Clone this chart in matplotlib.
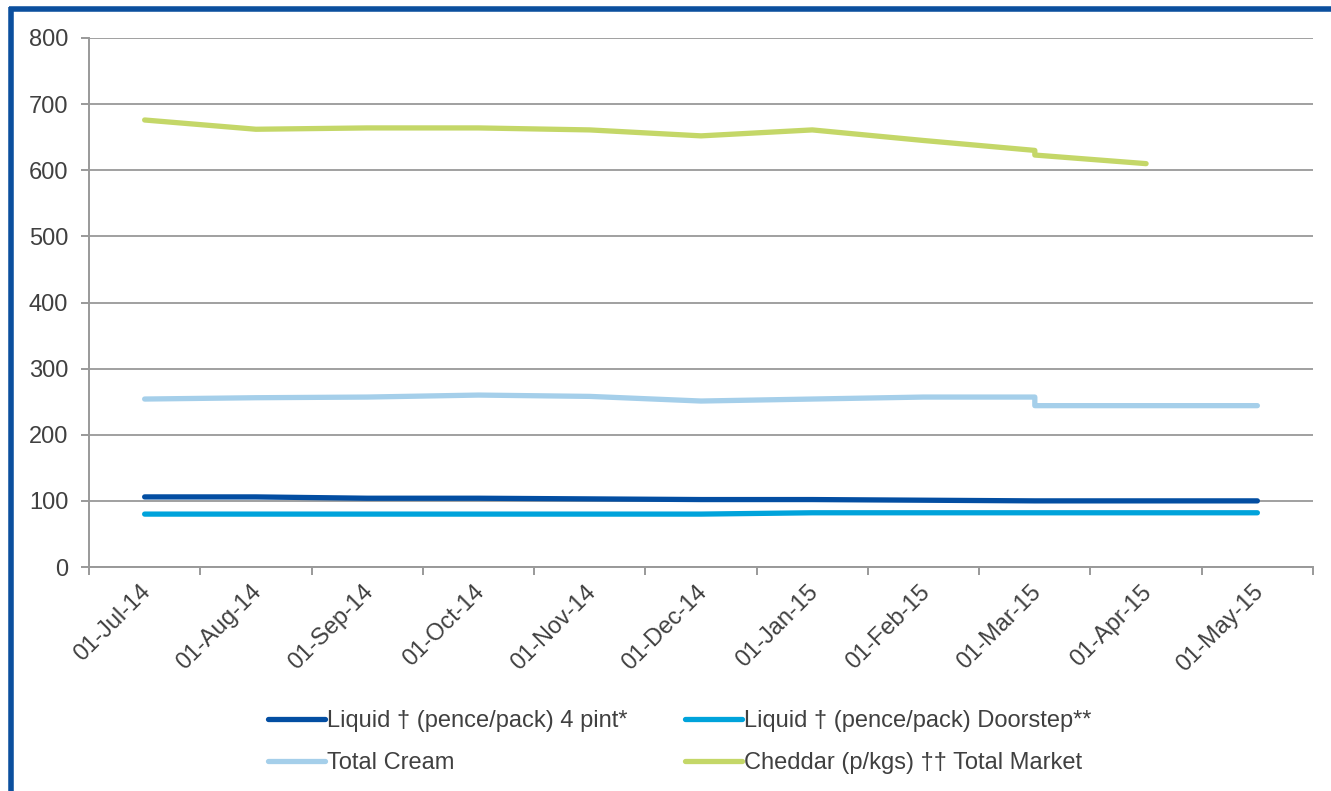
import matplotlib
matplotlib.use("Agg")
import matplotlib.pyplot as plt
from matplotlib.lines import Line2D
import matplotlib.transforms as mtransforms
import numpy as np

plt.rcParams['font.family'] = ['Liberation Sans', 'DejaVu Sans']

categories = ["01-Jul-14", "01-Aug-14", "01-Sep-14", "01-Oct-14", "01-Nov-14",
              "01-Dec-14", "01-Jan-15", "01-Feb-15", "01-Mar-15", "01-Apr-15", "01-May-15"]
# category index of each data point (March 2015 appears twice)
point_cat = [0, 1, 2, 3, 4, 5, 6, 7, 8, 8, 9, 10]

liquid_4pint = [106, 106, 104, 104, 103, 102, 102, 101, 100, 100, 100, 100]
liquid_doorstep = [80, 80, 80, 80, 80, 80, 82, 82, 82, 82, 82, 82]
total_cream = [254, 256, 257, 260, 258, 251, 254, 257, 257, 244, 244, 244]
cheddar = [676, 662, 664, 664, 661, 652, 661, 645, 630, 623, 610, np.nan]

series_names = ["Liquid \u2020 (pence/pack) 4 pint*", "Liquid \u2020 (pence/pack) Doorstep**",
                "Total Cream", "Cheddar (p/kgs) \u2020\u2020 Total Market"]
colors = ["#034EA2", "#00A3DB", "#A5CFEA", "#C4D768"]

W, H = 1331, 791
fig = plt.figure(figsize=(W / 100, H / 100), dpi=100)
ax = fig.add_axes([89 / W, 1 - 567 / H, (1313 - 89) / W, (567 - 38) / H])

x = np.array(point_cat) + 0.5
lines = []
for vals, c, name in zip([liquid_4pint, liquid_doorstep, total_cream, cheddar], colors, series_names):
    ln, = ax.plot(x, vals, color=c, lw=3.8, solid_capstyle='round', solid_joinstyle='round', label=name, zorder=3)
    lines.append(ln)

ax.set_xlim(0, len(categories))
ax.set_ylim(0, 800)
ax.set_yticks(range(0, 801, 100))
ax.yaxis.grid(True, color="#A0A0A0", lw=1.4)
ax.set_axisbelow(True)

fs = 17
ax.set_xticks(np.arange(len(categories)) + 0.5)
ax.set_xticklabels(categories, rotation=45, ha='right', rotation_mode='anchor')
ax.set_xticks(np.arange(len(categories) + 1), minor=True)
ax.tick_params(axis='x', which='major', length=0, pad=10, labelsize=fs, labelcolor="#404040")
ax.tick_params(axis='x', which='minor', length=6, width=1.4, color="#999999")
ax.tick_params(axis='y', length=6, width=1.4, color="#999999", labelsize=fs, labelcolor="#404040", pad=9)
shift = mtransforms.ScaledTranslation(-5 / 100, 0, fig.dpi_scale_trans)
for t in ax.get_xticklabels():
    t.set_transform(t.get_transform() + shift)

for s in ['top', 'right']:
    ax.spines[s].set_visible(False)
for s in ['left', 'bottom']:
    ax.spines[s].set_color("#999999")
    ax.spines[s].set_linewidth(1.4)

order = [0, 2, 1, 3]
leg = fig.legend([lines[i] for i in order], [series_names[i] for i in order], ncol=2,
                 loc='upper left', bbox_to_anchor=(268 / W, 1 - 710 / H), frameon=False,
                 fontsize=fs, handlelength=2.4, handletextpad=0.1, columnspacing=2.45,
                 labelspacing=0.86, borderaxespad=0, borderpad=0)
for t in leg.get_texts():
    t.set_color("#404040")

border_col = "#0B4F9E"
fig.add_artist(Line2D([10.5 / W, 10.5 / W], [0, 1 - 7 / H], color=border_col, lw=4, transform=fig.transFigure, solid_capstyle='butt'))
fig.add_artist(Line2D([8.5 / W, 1], [1 - 9 / H, 1 - 9 / H], color=border_col, lw=4, transform=fig.transFigure, solid_capstyle='butt'))

fig.savefig("out.png", dpi=100)
